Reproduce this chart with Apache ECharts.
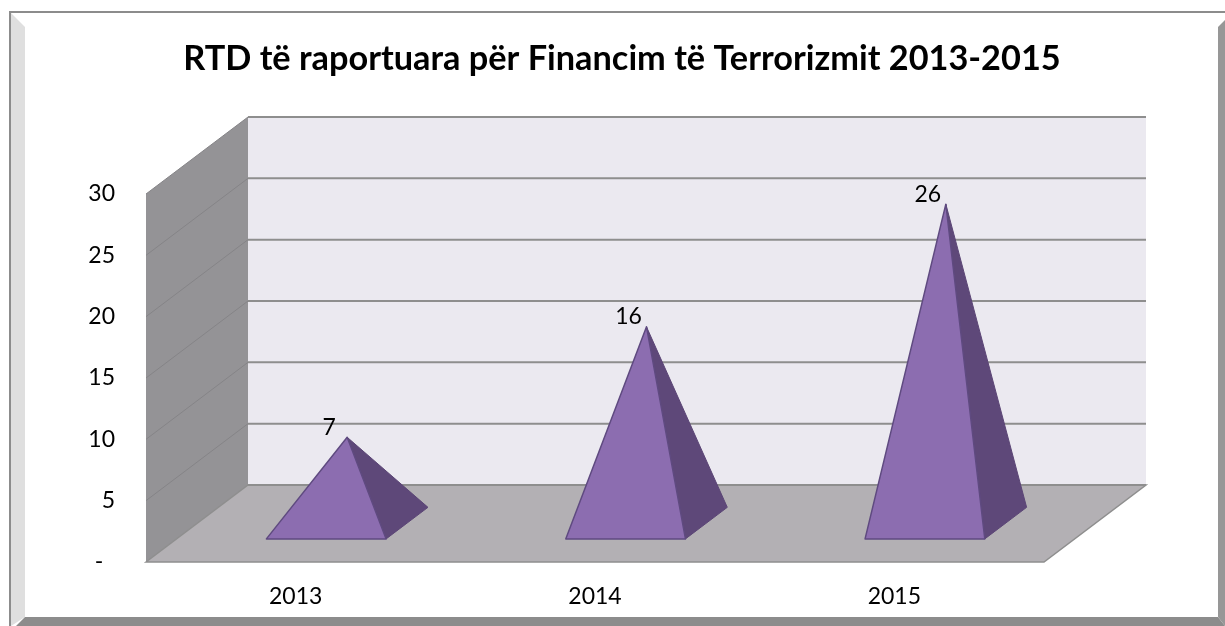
<!DOCTYPE html>
<html>
<head>
<meta charset="utf-8" />
<style>
  html, body { margin: 0; padding: 0; background: #fff; }
  #chart { width: 1225px; height: 626px; }
</style>
<script src="https://cdn.jsdelivr.net/npm/echarts@6/dist/echarts.min.js"></script>
</head>
<body>
<div id="chart"></div>
<script>
var titleText = "RTD të raportuara për Financim të Terrorizmit 2013-2015";
var years = ["2013", "2014", "2015"];
var reports = [7, 16, 26];
var yTicks = [0, 5, 10, 15, 20, 25, 30];

// 3d look: how far the back wall is pushed from the front plane
var depthX = 102;
var depthY = -77;
// pyramid base sits between these depth fractions
var baseFront = 0.3;
var baseBack = 0.71;
var baseWidth = 0.4;
var fontName = "Lato";

function wallItem(params, api) {
  var y0 = api.coord([0, 0])[1];
  var y1 = api.coord([0, 30])[1];
  var x0 = params.coordSys.x;
  var x1 = x0 + params.coordSys.width;
  var kids = [];
  // back wall
  kids.push({
    type: "polygon",
    shape: { points: [[x0 + depthX, y1 + depthY], [x1 + depthX, y1 + depthY], [x1 + depthX, y0 + depthY], [x0 + depthX, y0 + depthY]] },
    style: { fill: "#ebe9f0" }
  });
  // side wall
  kids.push({
    type: "polygon",
    shape: { points: [[x0, y1], [x0 + depthX, y1 + depthY], [x0 + depthX, y0 + depthY], [x0, y0]] },
    style: { fill: "#949396" }
  });
  // floor
  kids.push({
    type: "polygon",
    shape: { points: [[x0, y0], [x0 + depthX, y0 + depthY], [x1 + depthX, y0 + depthY], [x1, y0]] },
    style: { fill: "#b3b0b4", stroke: "#8e8e8e", lineWidth: 1.5 }
  });
  yTicks.forEach(function (t) {
    var y = api.coord([0, t])[1];
    if (t > 0) {
      kids.push({
        type: "line",
        shape: { x1: x0, y1: y, x2: x0 + depthX, y2: y + depthY },
        style: { stroke: "#858487", lineWidth: 1 }
      });
    }
    kids.push({
      type: "line",
      shape: { x1: x0 + depthX, y1: y + depthY, x2: x1 + depthX, y2: y + depthY },
      style: { stroke: "#8e8e8e", lineWidth: 2 }
    });
  });
  return { type: "group", children: kids };
}

function pyramidItem(params, api) {
  var zero = api.coord([api.value(0), 0]);
  var top = api.coord([api.value(0), api.value(1)]);
  var half = api.size([1, 0])[0] * baseWidth / 2;
  var mid = (baseFront + baseBack) / 2;
  var apex = [top[0] + depthX * mid, top[1] + depthY * mid];
  var fl = [zero[0] - half + depthX * baseFront, zero[1] + depthY * baseFront];
  var fr = [zero[0] + half + depthX * baseFront, fl[1]];
  var br = [zero[0] + half + depthX * baseBack, zero[1] + depthY * baseBack];
  return {
    type: "group",
    children: [
      {
        type: "polygon",
        shape: { points: [apex, fr, br] },
        style: { fill: "#5e4879", stroke: "#5c4676", lineWidth: 1, lineJoin: "round" }
      },
      {
        type: "polygon",
        shape: { points: [apex, fl, fr] },
        style: { fill: "#8c6db0", stroke: "#5f4a80", lineWidth: 1.5, lineJoin: "round" }
      },
      {
        type: "text",
        style: {
          x: apex[0] - 18,
          y: apex[1] - 10,
          text: String(api.value(1)),
          fill: "#000",
          font: "23px " + fontName,
          textAlign: "center",
          textVerticalAlign: "middle"
        }
      }
    ]
  };
}

var option = {
  animation: false,
  backgroundColor: "#fff",
  title: {
    text: titleText,
    left: 617,
    top: 37,
    textAlign: "center",
    textStyle: { fontFamily: fontName, fontSize: 34.3, fontWeight: "bold", color: "#000" }
  },
  grid: { left: 146, right: 181, top: 194, bottom: 64 },
  xAxis: {
    type: "category",
    data: years,
    axisLine: { show: false },
    axisTick: { show: false },
    splitLine: { show: false },
    axisLabel: { margin: 23, color: "#000", fontFamily: fontName, fontSize: 23 }
  },
  yAxis: {
    type: "value",
    min: 0,
    max: 30,
    interval: 5,
    axisLine: { show: false },
    axisTick: { show: false },
    splitLine: { show: false },
    axisLabel: {
      margin: 31,
      padding: [4, 0, 0, 0],
      color: "#000",
      fontFamily: fontName,
      fontSize: 23,
      formatter: function (v) { return v === 0 ? "-\u00a0\u00a0" : String(v); }
    }
  },
  // frame round the chart area
  graphic: [
    { type: "rect", shape: { x: 9, y: 11, width: 1216, height: 2 }, style: { fill: "#8c8c8c" } },
    { type: "rect", shape: { x: 9, y: 11, width: 2, height: 615 }, style: { fill: "#8c8c8c" } },
    { type: "polygon", shape: { points: [[11, 13], [25, 27], [25, 617], [11, 626]] }, style: { fill: "#dfdfdf" } },
    { type: "polygon", shape: { points: [[25, 617], [1218, 617], [1225, 626], [16, 626]] }, style: { fill: "#8c8c8c" } },
    { type: "polygon", shape: { points: [[1218, 27], [1225, 20], [1225, 626], [1218, 617]] }, style: { fill: "#979797" } }
  ],
  series: [
    {
      type: "custom",
      renderItem: wallItem,
      data: [[0, 0]],
      z: 1,
      silent: true
    },
    {
      type: "custom",
      renderItem: pyramidItem,
      data: reports.map(function (v, i) { return [i, v]; }),
      encode: { x: 0, y: 1 },
      z: 2
    }
  ]
};

var chart = echarts.init(document.getElementById("chart"));
chart.setOption(option);
</script>
</body>
</html>
